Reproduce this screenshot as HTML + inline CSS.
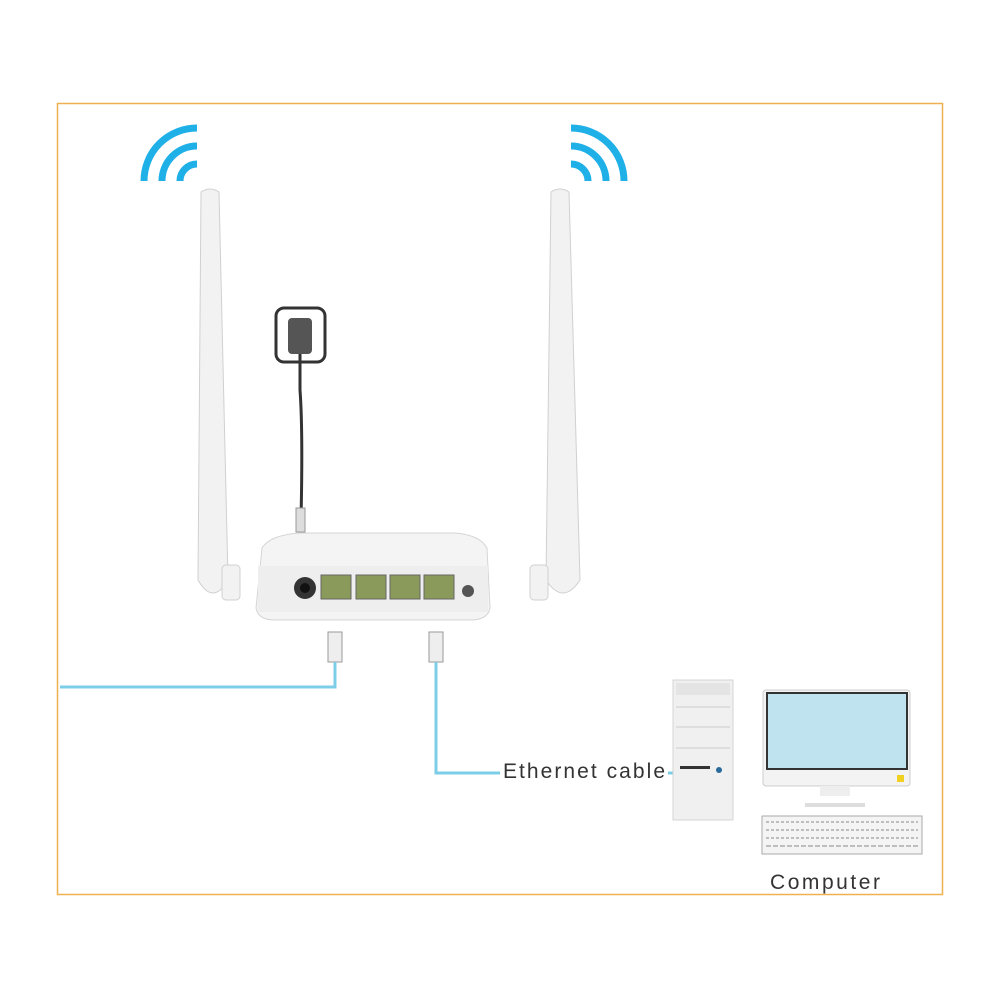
<!DOCTYPE html>
<html><head><style>body{margin:0;background:#fff}svg{display:block}</style></head><body>
<svg width="1000" height="1000" viewBox="0 0 1000 1000" xmlns="http://www.w3.org/2000/svg">
<rect x="57.5" y="103.5" width="885" height="791" fill="#fff" stroke="#f0b050" stroke-width="1.5"/>
<g fill="none" stroke="#1fb0e8" stroke-width="7" stroke-linecap="butt">
<path d="M197 128 A53 53 0 0 0 144 181"/><path d="M197 146 A35 35 0 0 0 162 181"/><path d="M197 164 A17 17 0 0 0 180 181"/>
<path d="M571 128 A53 53 0 0 1 624 181"/><path d="M571 146 A35 35 0 0 1 606 181"/><path d="M571 164 A17 17 0 0 1 588 181"/>
</g>
<g fill="#f2f2f2" stroke="#d0d0d0">
<path d="M201 192 Q210 186 219 192 L228 580 Q213 606 198 580 Z"/>
<path d="M551 192 Q560 186 569 192 L580 580 Q563 606 546 580 Z"/>
<rect x="222" y="565" width="18" height="35" rx="4"/>
<rect x="530" y="565" width="18" height="35" rx="4"/>
</g>
<rect x="276" y="308" width="49" height="54" rx="8" fill="#fff" stroke="#333" stroke-width="3"/>
<rect x="288" y="318" width="24" height="36" rx="4" fill="#555"/>
<path d="M300 354 L300 390 Q303 430 301 520" stroke="#333" stroke-width="3" fill="none"/>
<rect x="296" y="508" width="9" height="24" fill="#ddd" stroke="#999"/>
<path d="M262 548 Q270 535 300 533 L455 533 Q480 535 487 548 L490 608 Q488 620 470 620 L275 620 Q258 620 256 608 Z" fill="#f4f4f4" stroke="#d5d5d5"/>
<rect x="258" y="566" width="230" height="46" fill="#eeeeee"/>
<circle cx="305" cy="588" r="11" fill="#333"/><circle cx="305" cy="588" r="5" fill="#111"/>
<g fill="#8a9a5a" stroke="#666"><rect x="321" y="575" width="30" height="24"/><rect x="356" y="575" width="30" height="24"/><rect x="390" y="575" width="30" height="24"/><rect x="424" y="575" width="30" height="24"/></g>
<circle cx="468" cy="591" r="6" fill="#555"/>
<rect x="328" y="632" width="14" height="30" fill="#eee" stroke="#999"/>
<rect x="429" y="632" width="14" height="30" fill="#eee" stroke="#999"/>
<g fill="none" stroke="#7ccde8" stroke-width="3">
<path d="M335 662 L335 687 L60 687"/>
<path d="M436 662 L436 773 L500 773"/>
<path d="M668 773 L690 773"/>
</g>
<text x="503" y="778" font-family="Liberation Sans, sans-serif" font-size="21" fill="#333" textLength="162" lengthAdjust="spacing">Ethernet cable</text>
<rect x="673" y="680" width="60" height="140" fill="#f0f0f0" stroke="#d5d5d5"/>
<rect x="676" y="683" width="54" height="12" fill="#e4e4e4"/>
<line x1="676" y1="707" x2="730" y2="707" stroke="#ccc"/><line x1="676" y1="727" x2="730" y2="727" stroke="#ccc"/><line x1="676" y1="748" x2="730" y2="748" stroke="#ccc"/>
<rect x="680" y="766" width="30" height="3" fill="#333"/><circle cx="719" cy="770" r="3" fill="#2a6a9a"/>
<rect x="763" y="690" width="147" height="96" rx="3" fill="#f3f3f3" stroke="#ccc"/>
<rect x="767" y="693" width="140" height="76" fill="#bfe3ef" stroke="#333" stroke-width="2"/>
<rect x="897" y="775" width="7" height="7" fill="#f0d020"/>
<rect x="820" y="786" width="30" height="10" fill="#eee"/>
<rect x="805" y="803" width="60" height="4" fill="#ddd"/>
<rect x="762" y="816" width="160" height="38" fill="#f4f4f4" stroke="#aaa"/>
<g stroke="#888" stroke-width="1">
<line x1="766" y1="822" x2="918" y2="822" stroke-dasharray="3 2"/>
<line x1="766" y1="830" x2="918" y2="830" stroke-dasharray="3 2"/>
<line x1="766" y1="838" x2="918" y2="838" stroke-dasharray="3 2"/>
<line x1="766" y1="846" x2="918" y2="846" stroke-dasharray="5 2"/>
</g>
<text x="770" y="889" font-family="Liberation Sans, sans-serif" font-size="21" fill="#333" textLength="110" lengthAdjust="spacing">Computer</text>
</svg>
</body></html>
